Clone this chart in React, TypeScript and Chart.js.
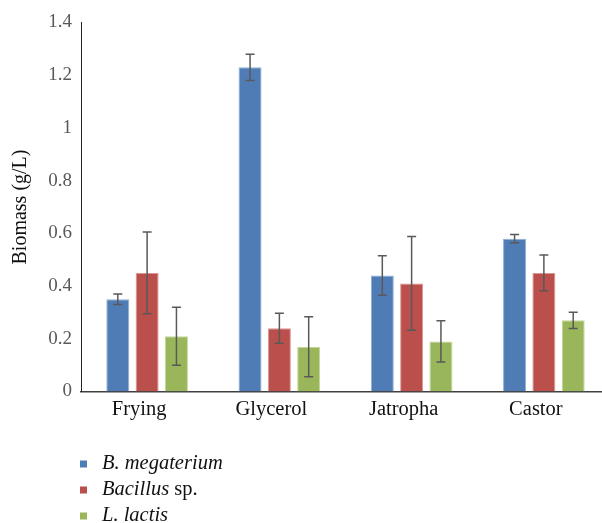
import React, { useEffect, useRef } from "react";
import { Chart, registerables } from "chart.js";

Chart.register(...registerables);

const categories = ["Frying", "Glycerol", "Jatropha", "Castor"];
const seriesNames = ["B. megaterium", "Bacillus sp.", "L. lactis"];
const megaterium = [0.35, 1.23, 0.44, 0.58];
const megateriumErr = [0.02, 0.05, 0.075, 0.016];
const bacillus = [0.45, 0.24, 0.41, 0.45];
const bacillusErr = [0.155, 0.057, 0.178, 0.068];
const lactis = [0.21, 0.17, 0.19, 0.27];
const lactisErr = [0.11, 0.114, 0.078, 0.031];
const yTicks = [0, 0.2, 0.4, 0.6, 0.8, 1, 1.2, 1.4];
const yTickLabels = ["0", "0.2", "0.4", "0.6", "0.8", "1", "1.2", "1.4"];

const colors = ["#4F7CB5", "#BA4F4C", "#9AB65B"];
const borders = ["#8FAED6", "#DB9694", "#C4D79B"];
const errors = [megateriumErr, bacillusErr, lactisErr];

// legend parts: [text, italic]
const legendParts: [string, boolean][][] = [
  [["B. megaterium", true]],
  [["Bacillus", true], [" sp.", false]],
  [["L. lactis", true]],
];

const FONT = "'Liberation Serif', 'Times New Roman', serif";

const errorBarPlugin = {
  id: "errorBars",
  afterDatasetsDraw(chart: any) {
    const ctx = chart.ctx;
    const y = chart.scales.y;
    ctx.save();
    ctx.strokeStyle = "#595959";
    ctx.lineWidth = 1.5;
    chart.data.datasets.forEach((ds: any, i: number) => {
      const meta = chart.getDatasetMeta(i);
      meta.data.forEach((el: any, j: number) => {
        const v = ds.data[j];
        const e = errors[i][j];
        const yt = y.getPixelForValue(v + e);
        const yb = y.getPixelForValue(v - e);
        const x = el.x;
        ctx.beginPath();
        ctx.moveTo(x, yt);
        ctx.lineTo(x, yb);
        ctx.moveTo(x - 4.5, yt);
        ctx.lineTo(x + 4.5, yt);
        ctx.moveTo(x - 4.5, yb);
        ctx.lineTo(x + 4.5, yb);
        ctx.stroke();
      });
    });
    ctx.restore();
  },
};

const legendPlugin = {
  id: "customLegend",
  afterDraw(chart: any) {
    const ctx = chart.ctx;
    ctx.save();
    const rows = [464, 490, 516];
    rows.forEach((cy, i) => {
      ctx.fillStyle = colors[i];
      ctx.fillRect(80, cy - 3.5, 7, 7);
      let x = 102;
      ctx.fillStyle = "#111";
      ctx.textBaseline = "middle";
      legendParts[i].forEach(([t, it]) => {
        ctx.font = `${it ? "italic " : ""}20.5px ${FONT}`;
        ctx.fillText(t, x, cy);
        x += ctx.measureText(t).width;
      });
    });
    ctx.restore();
  },
};

export default function App() {
  const ref = useRef<HTMLCanvasElement | null>(null);
  useEffect(() => {
    if (!ref.current) return;
    const chart = new Chart(ref.current, {
      type: "bar",
      data: {
        labels: categories,
        datasets: [megaterium, bacillus, lactis].map((d, i) => ({
          label: seriesNames[i],
          data: d,
          backgroundColor: colors[i],
          borderColor: borders[i],
          borderWidth: 1,
          categoryPercentage: 0.665,
          barPercentage: 0.785,
        })),
      },
      options: {
        responsive: false,
        animation: false,
        devicePixelRatio: 1,
        layout: { padding: { left: 0, right: 1, top: 22.5, bottom: 0 } },
        plugins: {
          legend: { display: false },
          tooltip: { enabled: false },
        },
        scales: {
          x: {
            grid: { display: false, drawTicks: false },
            border: { display: true, color: "#404040", width: 1.5 },
            ticks: {
              color: "#111",
              font: { family: FONT, size: 20.5 },
              padding: 6,
              labelOffset: -8,
            },
            afterFit(scale: any) {
              scale.height = 131.5;
            },
          },
          y: {
            min: 0,
            max: 1.4,
            afterBuildTicks(scale: any) {
              scale.ticks = yTicks.map((v) => ({ value: v }));
            },
            grid: { display: false, drawTicks: false },
            border: { display: true, color: "#222", width: 1 },
            ticks: {
              color: "#595959",
              font: { family: FONT, size: 19 },
              padding: 9,
              callback: (_v: any, idx: number) => yTickLabels[idx],
            },
            title: {
              display: true,
              text: "Biomass (g/L)",
              color: "#111",
              font: { family: FONT, size: 20 },
              padding: { top: 9, bottom: 0 },
            },
            afterFit(scale: any) {
              scale.width = 81;
            },
          },
        },
      },
      plugins: [errorBarPlugin, legendPlugin],
    });
    return () => chart.destroy();
  }, []);
  return (
    <div style={{ position: "fixed", left: 0, top: 0, width: 611, height: 523, background: "#fff" }}>
      <canvas ref={ref} width={611} height={523} style={{ display: "block", width: 611, height: 523 }} />
    </div>
  );
}
